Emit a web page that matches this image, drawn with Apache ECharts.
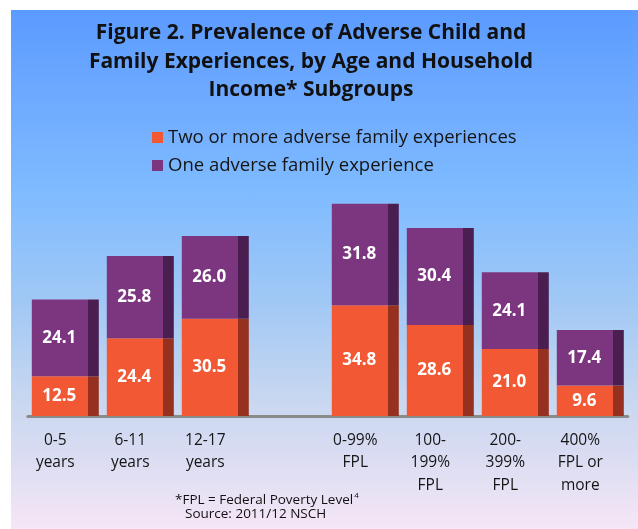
<!DOCTYPE html>
<html>
<head>
<meta charset="utf-8">
<script src="https://cdn.jsdelivr.net/npm/echarts@6/dist/echarts.min.js"></script>
<style>
  body { margin: 0; background: #fff; }
  .wrap { position: relative; width: 638px; height: 529px; background: #fff; }
  .bg {
    position: absolute; left: 11px; top: 10px; right: 0; bottom: 0;
    background: linear-gradient(to bottom,
      #5b9bff 0%, #6eaaff 17%, #7fbbff 35%, #a0c8f5 56%,
      #c8d7f0 75%, #d8dcf2 85%, #f6e6f6 100%);
  }
  #chart { position: absolute; left: 0; top: 0; width: 638px; height: 529px; }
</style>
</head>
<body>
<div class="wrap">
  <div class="bg"></div>
  <div id="chart"></div>
</div>
<script>
// categories (blank one keeps the gap between age and income groups)
const categories = [
  '0-5\nyears', '6-11\nyears', '12-17\nyears', '',
  '0-99%\nFPL', '100-\n199%\nFPL', '200-\n399%\nFPL', '400%\nFPL or\nmore'
];
const twoOrMore = [12.5, 24.4, 30.5, null, 34.8, 28.6, 21.0, 9.6];
const oneAdverse = [24.1, 25.8, 26.0, null, 31.8, 30.4, 24.1, 17.4];

const seriesNames = ['Two or more adverse family experiences', 'One adverse family experience'];

const ORANGE = '#f25834';
const ORANGE_DARK = '#96301f';
const PURPLE = '#7c3680';
const PURPLE_DARK = '#4b1e52';

const font = '"Open Sans", "Noto Sans", sans-serif';

// face + dark side strip for the pseudo 3d look
const sideShade = (main, dark) => new echarts.graphic.LinearGradient(0, 0, 1, 0, [
  { offset: 0, color: main },
  { offset: 0.835, color: main },
  { offset: 0.835, color: dark },
  { offset: 1, color: dark }
]);

const barLabel = {
  show: true,
  position: 'inside',
  offset: [-6, 0],
  color: '#fff',
  fontFamily: font,
  fontWeight: 'bold',
  fontSize: 17,
  formatter: p => p.value == null ? '' : Number(p.value).toFixed(1)
};

const chart = echarts.init(document.getElementById('chart'));

const option = {
  backgroundColor: 'transparent',
  animation: false,
  title: [
    {
      text: 'Figure 2. Prevalence of Adverse Child and\nFamily Experiences, by Age and Household\nIncome* Subgroups',
      left: 311,
      top: 19,
      padding: 0,
      textAlign: 'center',
      textStyle: {
        fontFamily: font,
        fontWeight: 'bold',
        fontSize: 21,
        lineHeight: 28.5,
        color: '#111'
      }
    },
    {
      text: '*FPL = Federal Poverty Level{sup|4}',
      left: 175,
      top: 492,
      padding: 0,
      textStyle: {
        fontFamily: font,
        fontWeight: 'normal',
        fontSize: 13.5,
        color: '#111',
        rich: {
          sup: { fontFamily: font, fontSize: 8, verticalAlign: 'top', padding: [0, 0, 8, 1], color: '#111' }
        }
      }
    },
    {
      text: 'Source: 2011/12 NSCH',
      left: 185,
      top: 507,
      padding: 0,
      textStyle: {
        fontFamily: font,
        fontWeight: 'normal',
        fontSize: 13.5,
        color: '#111'
      }
    }
  ],
  legend: {
    orient: 'vertical',
    left: 152,
    top: 128,
    padding: 0,
    itemWidth: 11,
    itemHeight: 11,
    itemGap: 9,
    icon: 'rect',
    selectedMode: false,
    textStyle: {
      fontFamily: font,
      fontSize: 18.5,
      color: '#151515'
    },
    data: [
      { name: seriesNames[0], itemStyle: { color: ORANGE } },
      { name: seriesNames[1], itemStyle: { color: PURPLE } }
    ]
  },
  grid: {
    left: 27.8,
    right: 10.2,
    top: 193,
    bottom: 113,
    containLabel: false
  },
  xAxis: {
    type: 'category',
    data: categories,
    axisLine: { lineStyle: { color: '#8a8a8a', width: 3 } },
    axisTick: { show: false },
    axisLabel: {
      interval: 0,
      margin: 13,
      fontFamily: font,
      fontSize: 15.5,
      lineHeight: 22.5,
      color: '#151515',
      align: 'center',
      padding: [0, 20, 0, 0]
    }
  },
  yAxis: {
    type: 'value',
    min: 0,
    max: 70,
    show: false,
    splitLine: { show: false }
  },
  series: [
    {
      name: seriesNames[0],
      type: 'bar',
      stack: 'total',
      barWidth: 67,
      data: twoOrMore,
      itemStyle: { color: sideShade(ORANGE, ORANGE_DARK) },
      label: barLabel
    },
    {
      name: seriesNames[1],
      type: 'bar',
      stack: 'total',
      barWidth: 67,
      data: oneAdverse,
      itemStyle: { color: sideShade(PURPLE, PURPLE_DARK) },
      label: barLabel
    }
  ]
};

chart.setOption(option);
</script>
</body>
</html>
